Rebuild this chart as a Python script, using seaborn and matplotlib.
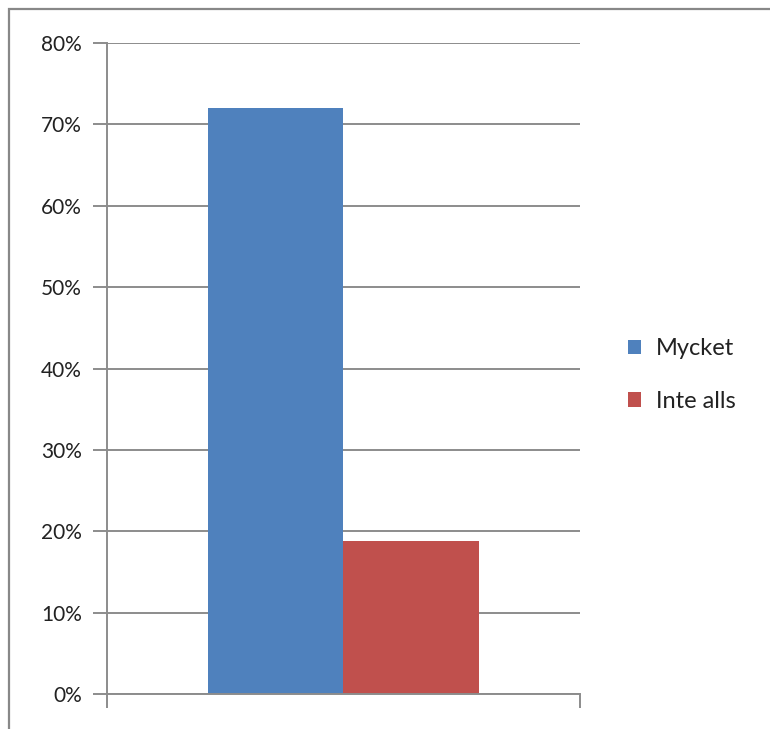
import pandas as pd
import matplotlib
matplotlib.use("Agg")
import matplotlib.pyplot as plt
import seaborn as sns
from matplotlib.ticker import PercentFormatter
from matplotlib.patches import Rectangle

# data
series = ['Mycket', 'Inte alls']
values = [0.72, 0.188]
colors = ['#4f81bd', '#c0504d']
yticks = [0, 0.1, 0.2, 0.3, 0.4, 0.5, 0.6, 0.7, 0.8]

df = pd.DataFrame({'grupp': [''] * len(series), 'svar': series, 'andel': values})

sns.set_style('white')
plt.rcParams['font.family'] = ['Lato', 'DejaVu Sans']

fig = plt.figure(figsize=(7.7, 7.29), dpi=100)
ax = fig.add_axes([0.139, 0.048, 0.614, 0.893])

sns.barplot(data=df, x='grupp', y='andel', hue='svar', palette=colors,
            width=0.573, saturation=1, linewidth=0, ax=ax, legend=True)

ax.set_xlim(-0.5, 0.5)
ax.set_ylim(0, 0.8)
ax.set_yticks(yticks)
ax.yaxis.set_major_formatter(PercentFormatter(1.0, decimals=0))
ax.grid(axis='y', color='#8c8c8c', linewidth=1.4)
ax.set_axisbelow(True)
ax.set_xlabel('')
ax.set_ylabel('')

for s in ['top', 'right']:
    ax.spines[s].set_visible(False)
for s in ['left', 'bottom']:
    ax.spines[s].set_color('#8c8c8c')
    ax.spines[s].set_linewidth(1.4)

ax.tick_params(axis='y', length=10, width=1.4, color='#8c8c8c',
               labelsize=15, labelcolor='#222222', pad=8, left=True)
ax.set_xticks([-0.5, 0.5])
ax.set_xticklabels(['', ''])
ax.tick_params(axis='x', length=10, width=1.4, color='#8c8c8c', bottom=True)

leg = ax.legend(loc='center left', bbox_to_anchor=(1.058, 0.49), frameon=False,
                fontsize=17, handlelength=0.55, handleheight=0.55,
                labelspacing=1.35, handletextpad=0.6)
for t in leg.get_texts():
    t.set_color('#222222')

fig.patches.append(Rectangle((0.012, -0.01), 1.2, 0.997, transform=fig.transFigure,
                             fill=False, edgecolor='#888888', linewidth=1.6))

fig.savefig('out.png', dpi=100)
